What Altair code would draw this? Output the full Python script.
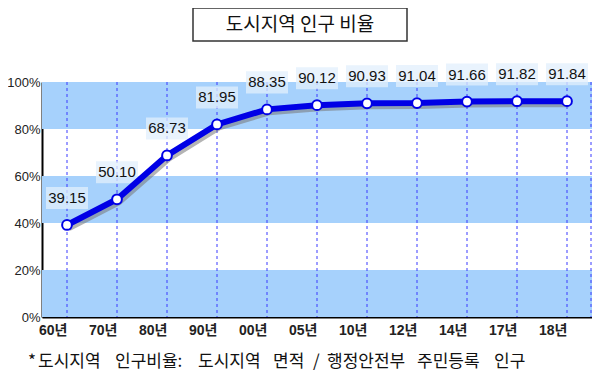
import altair as alt
import pandas as pd

years = ["60년", "70년", "80년", "90년", "00년", "05년", "10년", "12년", "14년", "17년", "18년"]
values = [39.15, 50.10, 68.73, 81.95, 88.35, 90.12, 90.93, 91.04, 91.66, 91.82, 91.84]
band_lo = [0, 40, 80]
band_hi = [20, 60, 100]
y_ticks = [0, 20, 40, 60, 80, 100]
title_text = "도시지역 인구 비율"
note_words = ["*", "도시지역", "인구비율:", "도시지역", "면적", "/", "행정안전부", "주민등록", "인구"]

LEFT = 34
W, H = 584 - LEFT, 235
NUM_FONT = "Liberation Sans, Arial"
KR_FONT = "Noto Sans CJK KR"

df = pd.DataFrame({"year": years, "value": values, "label": [f"{v:.2f}" for v in values]})
bands = pd.DataFrame({"lo": band_lo, "hi": band_hi})
one = df.head(1)

xs = alt.Scale(type="point", padding=0.5, domain=years)
ys = alt.Scale(domain=[0, 100], nice=False)

X = alt.X("year:N", scale=xs, sort=years,
          axis=alt.Axis(title=None, ticks=False, domainColor="black", domainWidth=2,
                        labelFont=NUM_FONT + ", " + KR_FONT, labelFontWeight="bold",
                        labelFontSize=14, labelColor="#222", labelPadding=13,
                        labelBaseline="middle", labelAngle=0))
Y = alt.Y("value:Q", scale=ys,
          axis=alt.Axis(title=None, values=y_ticks, ticks=False, grid=False,
                        domainColor="black", domainWidth=2,
                        labelExpr="datum.value + '%'", labelFont=NUM_FONT,
                        labelFontSize=13, labelColor="#222", labelPadding=2))

band_layer = alt.Chart(bands).mark_rect(color="#a6d1fc").encode(
    y=alt.Y("lo:Q", scale=ys), y2="hi:Q", x=alt.value(0), x2=alt.value(W))

rules = alt.Chart(df).mark_rule(color="#3a3aff", strokeDash=[3, 3], strokeWidth=1).encode(
    x=alt.X("year:N", scale=xs, sort=years))
edge_rule = alt.Chart(one).mark_rule(color="#3a3aff", strokeDash=[3, 3], strokeWidth=1).encode(
    x=alt.value(W - 1), y=alt.value(0), y2=alt.value(H))

box_shape = "M-1,-0.524L1,-0.524L1,0.524L-1,0.524Z"
boxes = alt.Chart(df).mark_point(shape=box_shape, size=1764, filled=True, fill="#e2effc",
                                  opacity=0.75, strokeWidth=0, yOffset=-27).encode(x=X, y=Y)

shadow = alt.Chart(df).mark_line(color="#777", strokeWidth=6, opacity=0.55,
                                 xOffset=2, yOffset=3).encode(x=X, y=Y)
line = alt.Chart(df).mark_line(color="#0000e6", strokeWidth=6).encode(x=X, y=Y)
points = alt.Chart(df).mark_point(filled=True, fill="white", stroke="#0000e6", strokeWidth=2,
                                  size=95, opacity=1).encode(x=X, y=Y)
labels = alt.Chart(df).mark_text(font=NUM_FONT, fontSize=15, color="#111", dy=-27,
                                 baseline="middle").encode(x=X, y=Y, text="label:N")

title_box = alt.Chart(one).mark_rect(fill="white", stroke="#333", strokeWidth=1.5).encode(
    x=alt.value(193 - 8 - LEFT), x2=alt.value(407 - 8 - LEFT), y=alt.value(-74), y2=alt.value(-41))
title = alt.Chart(one).mark_text(font=KR_FONT, fontSize=19, color="#111",
                                 baseline="middle", align="center").encode(
    x=alt.value(300 - 8 - LEFT), y=alt.value(-57), text=alt.value(title_text))

# word start positions of the footnote in page pixels
note_x = [28, 38, 115, 198, 273, 313, 327, 417, 494]
note_layers = [
    alt.Chart(one).mark_text(font=KR_FONT, fontSize=17, color="#111",
                             baseline="middle", align="left").encode(
        x=alt.value(px - 8 - LEFT), y=alt.value(280), text=alt.value(w))
    for w, px in zip(note_words, note_x)
]

chart = alt.layer(band_layer, rules, edge_rule, boxes, shadow, line, points, labels,
                  title_box, title, *note_layers).properties(
    width=W, height=H,
    autosize=alt.AutoSizeParams(type="none"),
    padding={"left": LEFT, "top": 74, "right": 0, "bottom": 54},
    background="white",
).configure_view(strokeWidth=0)

chart.save("out.html", embed_options={"renderer": "svg", "actions": False})
